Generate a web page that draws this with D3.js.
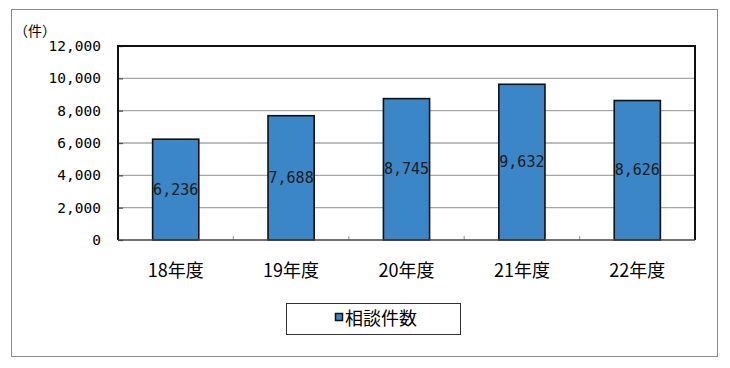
<!DOCTYPE html>
<html>
<head>
<meta charset="utf-8">
<script src="https://cdn.jsdelivr.net/npm/d3@7"></script>
<style>
  body { margin: 0; background: #fff; }
  .tickText { font-family: "DejaVu Sans Mono", "Liberation Mono", monospace; font-size: 14.5px; fill: #000; }
  .barText { font-family: "DejaVu Sans Mono", "Liberation Mono", monospace; font-size: 15px; fill: #1a1a1a; }
  .jp { font-family: "Noto Sans CJK JP", sans-serif; fill: #000; }
</style>
</head>
<body>
<div id="chart"></div>
<script>
// Chart data
var years = ["18年度", "19年度", "20年度", "21年度", "22年度"];
var consultations = [6236, 7688, 8745, 9632, 8626];
var yTicks = [0, 2000, 4000, 6000, 8000, 10000, 12000];
var seriesName = "相談件数";
var unitLabel = "（件）";

var svgWidth = 730;
var svgHeight = 368;
var margin = { top: 46, right: 35, bottom: 128, left: 118 };
var width = svgWidth - margin.left - margin.right;
var height = svgHeight - margin.top - margin.bottom;

var svg = d3.select("#chart")
    .append("svg")
    .attr("width", svgWidth)
    .attr("height", svgHeight);

// outer frame
svg.append("rect")
    .attr("x", 11.5)
    .attr("y", 9.5)
    .attr("width", 706)
    .attr("height", 347)
    .attr("fill", "#fff")
    .attr("stroke", "#8c8c8c")
    .attr("stroke-width", 1);

var chart = svg.append("g")
    .attr("transform", `translate(${margin.left}, ${margin.top})`);

// scales
var xScale = d3.scaleBand()
    .domain(years)
    .range([0, width])
    .paddingInner(0.6)
    .paddingOuter(0.3);

var yScale = d3.scaleLinear()
    .domain([0, 12000])
    .range([height, 0]);

// gridlines
chart.selectAll(".grid")
    .data(yTicks.filter(d => d > 0 && d < 12000))
    .enter()
    .append("line")
    .attr("x1", 0)
    .attr("x2", width)
    .attr("y1", d => yScale(d))
    .attr("y2", d => yScale(d))
    .attr("stroke", "#a6a6a6")
    .attr("stroke-width", 1.3);

// y axis
var yAxis = d3.axisLeft(yScale)
    .tickValues(yTicks)
    .tickSize(-5)
    .tickPadding(17)
    .tickFormat(d3.format(","));

var yG = chart.append("g").call(yAxis);
yG.select(".domain").remove();
yG.selectAll("line").attr("stroke", "#555").attr("stroke-width", 1.3);
yG.selectAll("text").attr("class", "tickText").attr("font-family", null).attr("font-size", null).attr("fill", null);

// x axis ticks at category boundaries
var boundaries = years.slice(1).map(d => xScale(d) - xScale.step() * xScale.paddingInner() / 2);
chart.selectAll(".xtick")
    .data(boundaries)
    .enter()
    .append("line")
    .attr("x1", d => d)
    .attr("x2", d => d)
    .attr("y1", height)
    .attr("y2", height - 4)
    .attr("stroke", "#a6a6a6")
    .attr("stroke-width", 1.3);

// x labels
chart.selectAll(".xlabel")
    .data(years)
    .enter()
    .append("text")
    .attr("class", "jp")
    .attr("x", d => xScale(d) + xScale.bandwidth() / 2)
    .attr("y", height + 37)
    .attr("text-anchor", "middle")
    .attr("font-size", "18px")
    .text(d => d);

// bars
var bars = chart.selectAll(".bar")
    .data(consultations)
    .enter();

bars.append("rect")
    .attr("x", (d, i) => xScale(years[i]))
    .attr("y", d => yScale(d))
    .attr("width", xScale.bandwidth())
    .attr("height", d => height - yScale(d))
    .attr("fill", "#3a86c6")
    .attr("stroke", "#111")
    .attr("stroke-width", 1.6);

bars.append("text")
    .attr("class", "barText")
    .attr("x", (d, i) => xScale(years[i]) + xScale.bandwidth() / 2)
    .attr("y", d => (yScale(d) + height) / 2 + 5)
    .attr("text-anchor", "middle")
    .text(d => d3.format(",")(d));

// plot frame
chart.append("path")
    .attr("d", `M0,${height}V0H${width}V${height}`)
    .attr("fill", "none")
    .attr("stroke", "#111")
    .attr("stroke-width", 2);
chart.append("line")
    .attr("x1", 0).attr("x2", width)
    .attr("y1", height).attr("y2", height)
    .attr("stroke", "#444")
    .attr("stroke-width", 1.5);

// unit label
svg.append("text")
    .attr("class", "jp")
    .attr("x", 14)
    .attr("y", 36)
    .attr("font-size", "14px")
    .text(unitLabel);

// legend
var legend = svg.append("g").attr("transform", "translate(286, 303)");
legend.append("rect")
    .attr("x", 0.5).attr("y", 0.5)
    .attr("width", 174).attr("height", 31)
    .attr("fill", "#fff")
    .attr("stroke", "#333")
    .attr("stroke-width", 1);
legend.append("rect")
    .attr("x", 49.5).attr("y", 10.5)
    .attr("width", 7).attr("height", 7)
    .attr("fill", "#3a86c6")
    .attr("stroke", "#111")
    .attr("stroke-width", 1.5);
legend.append("text")
    .attr("class", "jp")
    .attr("x", 59)
    .attr("y", 22)
    .attr("font-size", "18px")
    .text(seriesName);
</script>
</body>
</html>
